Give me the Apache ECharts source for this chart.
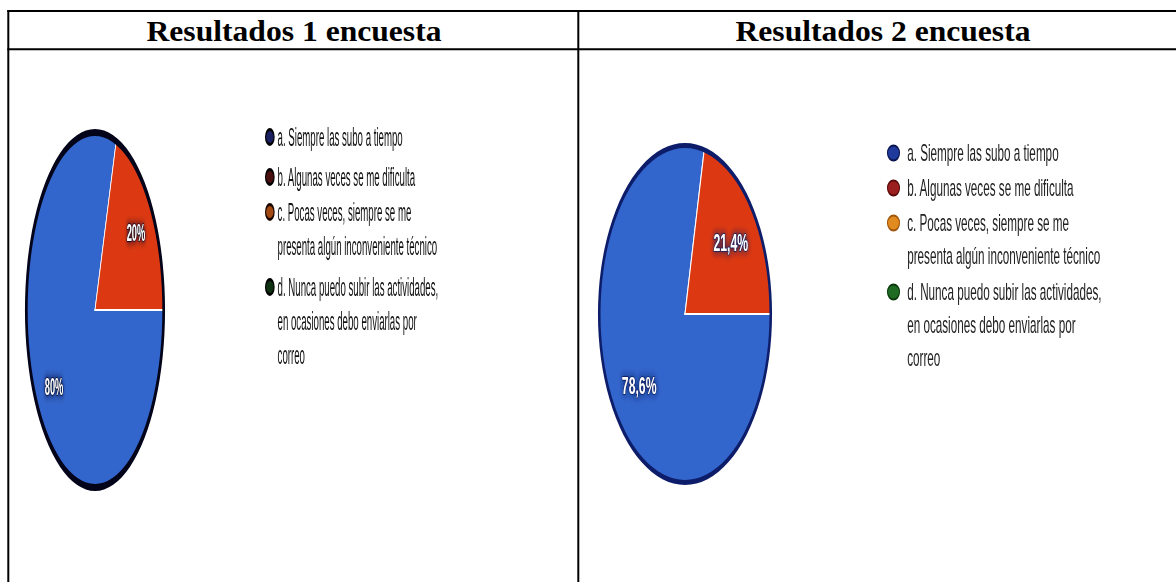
<!DOCTYPE html>
<html>
<head>
<meta charset="utf-8">
<script src="https://cdn.jsdelivr.net/npm/echarts@6/dist/echarts.min.js"></script>
<style>
html,body{margin:0;padding:0;background:#fff;overflow:hidden;}
#page{position:relative;width:1176px;height:582px;overflow:hidden;}
#base{position:absolute;left:0;top:0;width:1176px;height:582px;}
.cell{position:absolute;transform-origin:0 0;}
</style>
</head>
<body>
<div id="page">
  <div id="base"></div>
  <div id="c1" class="cell"></div>
  <div id="c2" class="cell"></div>
</div>
<script>
// ---------- data ----------
const titles = ['Resultados 1 encuesta', 'Resultados 2 encuesta'];
const categories = [
  'a. Siempre las subo a tiempo',
  'b. Algunas veces se me dificulta',
  'c. Pocas veces, siempre se me\npresenta algún inconveniente técnico',
  'd. Nunca puedo subir las actividades,\nen ocasiones debo enviarlas por\ncorreo'
];
const survey1 = [80, 20, 0, 0];
const survey2 = [78.6, 21.4, 0, 0];

// ---------- styles / layout ----------
const sliceColors = ['#3366cc', '#dc3912', '#ff9900', '#109618'];
const ELLIPSE = 'path://M0,50 A50,50 0 1,1 100,50 A50,50 0 1,1 0,50 Z';

const layouts = [
  { el: 'c1', left: 9, top: 50, width: 569, height: 532, sx: 0.387,
    cx: 95, cy: 310, r: 181, ring: 7, ringColor: '#03041a', labelK: 1.44,
    legendX: 265, legendY: [137, 177, 212, 287], lh: 34, font: 25, textPad: 4,
    mW: 8.5, mH: 15, mBorder: 3, textColor: '#111',
    markerFill: ['#1a2060', '#4a1010', '#a34a12', '#0f3312'],
    markerStroke: ['#000000', '#000000', '#1a0800', '#000000'],
    labelShadow: '#000826' },
  { el: 'c2', left: 580, top: 50, width: 596, height: 532, sx: 0.509,
    cx: 685, cy: 314, r: 171, ring: 5, ringColor: '#0d1d6a', labelK: 1.33,
    legendX: 887, legendY: [153, 188, 223, 292], lh: 33, font: 23, textPad: 10,
    mW: 12, mH: 15, mBorder: 2, textColor: '#222',
    markerFill: ['#1f3a9c', '#9c1f1f', '#e08a1f', '#1f6b24'],
    markerStroke: ['#0a1550', '#5a0a0a', '#a0550a', '#0a3a0a'],
    labelShadow: '#0a1a60' }
];

function fmtPct(p) {
  if (!p.value) return '';
  return String(p.value).replace('.', ',') + '%';
}

function cellOption(L, values) {
  const cx = (L.cx - L.left) / L.sx;
  const cy = L.cy - L.top;
  const rIn = L.r - L.ring / 2;
  const series = [
    {
      type: 'pie', name: 'slices', center: [cx, cy], radius: rIn,
      startAngle: 0, clockwise: true, silent: true,
      label: { show: false }, labelLine: { show: false },
      itemStyle: { borderColor: '#ffffff', borderWidth: 2 },
      data: categories.map((n, i) => ({ name: n, value: values[i], itemStyle: { color: sliceColors[i] } }))
    },
    {
      type: 'pie', name: 'outline', center: [cx, cy], radius: [L.r - L.ring, L.r],
      silent: true, label: { show: false }, labelLine: { show: false },
      itemStyle: { color: L.ringColor },
      data: [{ name: 'outline', value: 1 }]
    },
    {
      type: 'pie', name: 'labels', center: [cx, cy], radius: rIn * L.labelK,
      startAngle: 0, clockwise: true, silent: true,
      itemStyle: { color: 'rgba(0,0,0,0)' },
      label: {
        show: true, position: 'inside', formatter: fmtPct,
        color: '#ffffff', fontSize: 24, fontWeight: 'bold',
        fontFamily: '"Liberation Sans", Arial, sans-serif',
        textBorderColor: L.labelShadow, textBorderWidth: 1.5,
        textShadowColor: L.labelShadow, textShadowBlur: 8
      },
      labelLine: { show: false },
      data: categories.map((n, i) => ({ name: n, value: values[i] }))
    }
  ];
  const legend = categories.map((name, i) => {
    const n = name.split('\n').length;
    const H = (2 * n - 1) * L.lh;
    return {
      orient: 'vertical',
      left: (L.legendX - L.left) / L.sx,
      top: (L.legendY[i] - L.top) - H / 2,
      padding: 0, itemGap: 0,
      itemWidth: L.mW / L.sx, itemHeight: L.mH,
      icon: ELLIPSE, symbolKeepAspect: false, selectedMode: false,
      // empty leading lines keep the marker level with the first text line
      formatter: nm => '\n'.repeat(n - 1) + nm,
      data: [{ name: name, icon: ELLIPSE, symbolKeepAspect: false,
               itemStyle: { color: L.markerFill[i], borderColor: L.markerStroke[i], borderWidth: L.mBorder } }],
      textStyle: {
        color: L.textColor, fontSize: L.font, fontFamily: '"Liberation Sans", Arial, sans-serif',
        lineHeight: L.lh, padding: [0, 0, 0, L.textPad]
      }
    };
  });
  return { animation: false, legend: legend, series: series };
}

// ---------- base (table + titles) ----------
const base = echarts.init(document.getElementById('base'), null, { renderer: 'svg' });
const lineStyle = { stroke: '#000', lineWidth: 2 };
const titleStyle = { fontFamily: '"Liberation Serif", "Times New Roman", serif', fontWeight: 'bold', fontSize: 29,
                     fill: '#000', align: 'center', verticalAlign: 'middle' };
base.setOption({
  animation: false,
  graphic: [
    { type: 'line', shape: { x1: 7.3, y1: 11, x2: 1176, y2: 11 }, style: lineStyle },
    { type: 'line', shape: { x1: 7.3, y1: 49.3, x2: 1176, y2: 49.3 }, style: lineStyle },
    { type: 'line', shape: { x1: 8.3, y1: 10, x2: 8.3, y2: 582 }, style: lineStyle },
    { type: 'line', shape: { x1: 578.3, y1: 10, x2: 578.3, y2: 582 }, style: lineStyle },
    { type: 'text', x: 294, y: 31, scaleX: 1.09, style: Object.assign({ text: titles[0] }, titleStyle) },
    { type: 'text', x: 883, y: 31, scaleX: 1.09, style: Object.assign({ text: titles[1] }, titleStyle) }
  ]
});

// ---------- cells ----------
[survey1, survey2].forEach((vals, k) => {
  const L = layouts[k];
  const div = document.getElementById(L.el);
  div.style.left = L.left + 'px';
  div.style.top = L.top + 'px';
  div.style.width = (L.width / L.sx) + 'px';
  div.style.height = L.height + 'px';
  div.style.transform = 'scaleX(' + L.sx + ')';
  const chart = echarts.init(div, null, { renderer: 'svg' });
  chart.setOption(cellOption(L, vals));
});
</script>
</body>
</html>
